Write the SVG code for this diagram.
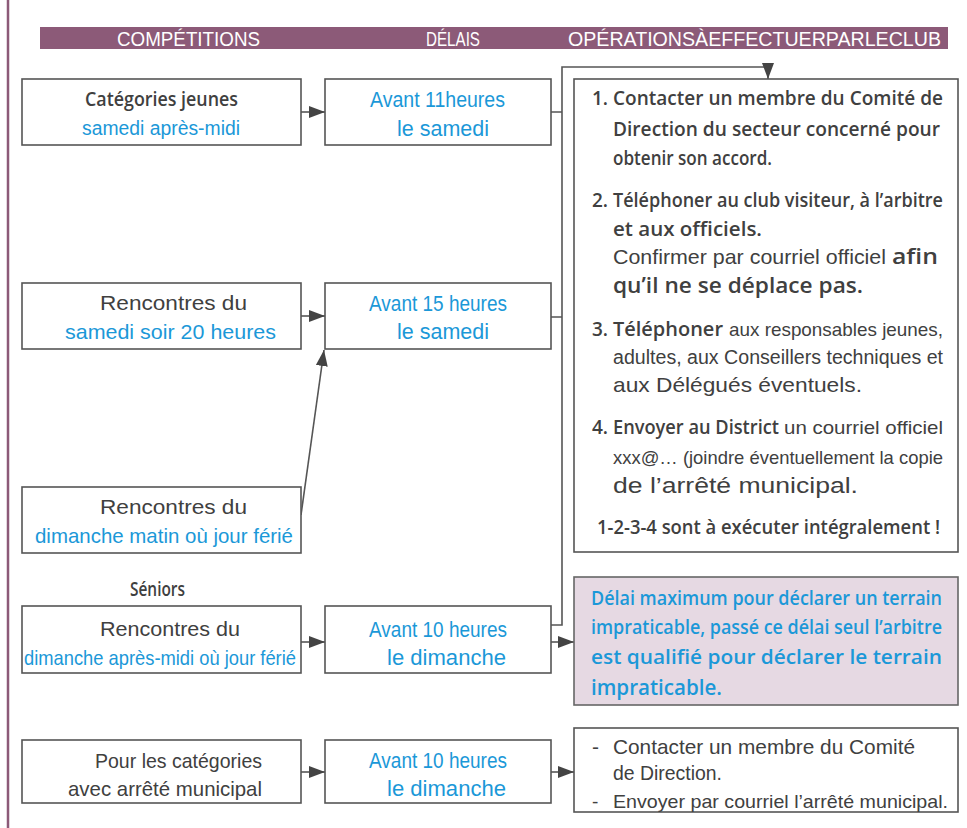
<svg xmlns="http://www.w3.org/2000/svg" width="967" height="828" viewBox="0 0 967 828">
<style>
.box{fill:#fff;stroke:#555;stroke-width:1.6}
.pbox{fill:#e6d9e3;stroke:#666;stroke-width:1.6}
.con{fill:none;stroke:#555;stroke-width:1.6}
.g{font-family:"Liberation Sans",Arial,sans-serif;fill:#404040}
.b{font-family:"Liberation Sans",Arial,sans-serif;fill:#1b98d8}
.h{font-family:"Open Sans","Noto Sans",sans-serif;font-weight:600;fill:#404040}
.hb{font-family:"Open Sans","Noto Sans",sans-serif;font-weight:600;fill:#1b98d8}
.w{font-family:"Liberation Sans",Arial,sans-serif;fill:#fff;font-size:20px}
</style>
<defs>
<marker id="ah" markerUnits="userSpaceOnUse" markerWidth="16" markerHeight="12" refX="16" refY="6" orient="auto">
<path d="M0,0 L16,6 L0,12 z" fill="#444"/>
</marker>
</defs>
<rect x="0" y="0" width="967" height="828" fill="#fff"/>
<line x1="8" y1="0" x2="8" y2="828" stroke="#8c5a78" stroke-width="2.5"/>
<g id="header">
<rect x="40" y="27" width="908" height="22" fill="#8c5a78"/>
<text class="w" x="117" y="46" textLength="143" lengthAdjust="spacingAndGlyphs">COMPÉTITIONS</text>
<text class="w" x="426" y="46" textLength="54" lengthAdjust="spacingAndGlyphs">DÉLAIS</text>
<text class="w" x="568" y="46" textLength="373" lengthAdjust="spacingAndGlyphs">OPÉRATIONSÀEFFECTUERPARLECLUB</text>
</g>
<g id="connectors">
<line class="con" x1="301" y1="112" x2="325" y2="112" marker-end="url(#ah)"/>
<line class="con" x1="301" y1="316" x2="325" y2="316" marker-end="url(#ah)"/>
<line class="con" x1="301" y1="515" x2="324" y2="350" marker-end="url(#ah)"/>
<line class="con" x1="301" y1="642" x2="325" y2="642" marker-end="url(#ah)"/>
<line class="con" x1="551" y1="642" x2="574" y2="642" marker-end="url(#ah)"/>
<line class="con" x1="301" y1="772" x2="325" y2="772" marker-end="url(#ah)"/>
<line class="con" x1="551" y1="772" x2="574" y2="772" marker-end="url(#ah)"/>
<path class="con" d="M551,112 H562 M551,317 H562"/>
<path class="con" d="M551,625 H562 V67 H768 V79" marker-end="url(#ah)"/>
</g>
<g id="jeunes">
<rect class="box" x="22" y="79" width="279" height="66"/>
<text class="h" x="85" y="106" font-size="20" textLength="153" lengthAdjust="spacingAndGlyphs">Catégories  jeunes</text>
<text class="b" x="82" y="135" font-size="20" textLength="158" lengthAdjust="spacingAndGlyphs">samedi après-midi</text>
</g>
<g id="avant11">
<rect class="box" x="325" y="79" width="226" height="66"/>
<text class="b" x="370" y="107" font-size="22" textLength="135" lengthAdjust="spacingAndGlyphs">Avant 11heures</text>
<text class="b" x="397" y="136" font-size="22" textLength="92" lengthAdjust="spacingAndGlyphs">le samedi</text>
</g>
<g id="samedisoir">
<rect class="box" x="22" y="283" width="279" height="66"/>
<text class="g" x="100" y="310" font-size="21" textLength="147" lengthAdjust="spacingAndGlyphs">Rencontres du</text>
<text class="b" x="65" y="339" font-size="21" textLength="211" lengthAdjust="spacingAndGlyphs">samedi soir 20 heures</text>
</g>
<g id="avant15">
<rect class="box" x="325" y="283" width="226" height="66"/>
<text class="b" x="369" y="311" font-size="22" textLength="138" lengthAdjust="spacingAndGlyphs">Avant 15 heures</text>
<text class="b" x="397" y="339" font-size="22" textLength="92" lengthAdjust="spacingAndGlyphs">le samedi</text>
</g>
<g id="dimanchematin">
<rect class="box" x="22" y="487" width="279" height="66"/>
<text class="g" x="100" y="514" font-size="21" textLength="147" lengthAdjust="spacingAndGlyphs">Rencontres du</text>
<text class="b" x="35" y="543" font-size="21" textLength="258" lengthAdjust="spacingAndGlyphs">dimanche matin où jour férié</text>
</g>
<g id="seniors">
<text class="h" x="130" y="596" font-size="20" textLength="55" lengthAdjust="spacingAndGlyphs">Séniors</text>
<rect class="box" x="22" y="606" width="279" height="67"/>
<text class="g" x="100" y="636" font-size="21" textLength="140" lengthAdjust="spacingAndGlyphs">Rencontres du</text>
<text class="b" x="24" y="665" font-size="21" textLength="272" lengthAdjust="spacingAndGlyphs">dimanche après-midi où jour férié</text>
</g>
<g id="avant10a">
<rect class="box" x="325" y="606" width="226" height="67"/>
<text class="b" x="369" y="637" font-size="22" textLength="138" lengthAdjust="spacingAndGlyphs">Avant 10 heures</text>
<text class="b" x="387" y="665" font-size="22" textLength="119" lengthAdjust="spacingAndGlyphs">le dimanche</text>
</g>
<g id="operations">
<rect class="box" x="574" y="79" width="384" height="473"/>
<text class="h" font-size="19" y="105"><tspan x="592">1.</tspan><tspan x="613" textLength="330" lengthAdjust="spacingAndGlyphs">Contacter un membre du Comité de</tspan></text>
<text class="h" font-size="19" x="613" y="136" textLength="327" lengthAdjust="spacingAndGlyphs">Direction du secteur concerné pour</text>
<text class="h" font-size="20" x="613" y="165" textLength="159" lengthAdjust="spacingAndGlyphs">obtenir son accord.</text>
<text class="h" font-size="19" y="207"><tspan x="592">2.</tspan><tspan x="613" textLength="330" lengthAdjust="spacingAndGlyphs">Téléphoner au club visiteur, à l’arbitre</tspan></text>
<text class="h" font-size="20" x="613" y="236" textLength="149" lengthAdjust="spacingAndGlyphs">et aux officiels.</text>
<text font-size="21" y="264"><tspan class="g" x="613" textLength="273" lengthAdjust="spacingAndGlyphs">Confirmer par courriel officiel</tspan><tspan class="h" x="892" textLength="46" lengthAdjust="spacingAndGlyphs">afin</tspan></text>
<text class="h" font-size="21" x="613" y="293" textLength="250" lengthAdjust="spacingAndGlyphs">qu’il ne se déplace pas.</text>
<text font-size="19" y="336"><tspan class="h" x="592">3.</tspan><tspan class="h" x="613" textLength="110" lengthAdjust="spacingAndGlyphs">Téléphoner</tspan><tspan class="g" x="729" textLength="214" lengthAdjust="spacingAndGlyphs">aux responsables jeunes,</tspan></text>
<text class="g" font-size="20" x="613" y="364" textLength="330" lengthAdjust="spacingAndGlyphs">adultes, aux Conseillers techniques et</text>
<text class="g" font-size="21" x="613" y="392" textLength="249" lengthAdjust="spacingAndGlyphs">aux  Délégués éventuels.</text>
<text font-size="19" y="434"><tspan class="h" x="592">4.</tspan><tspan class="h" x="613" textLength="166" lengthAdjust="spacingAndGlyphs">Envoyer au District</tspan><tspan class="g" x="784" textLength="159" lengthAdjust="spacingAndGlyphs">un courriel officiel</tspan></text>
<text class="g" font-size="19" x="613" y="464" textLength="330" lengthAdjust="spacingAndGlyphs">xxx@… (joindre éventuellement la copie</text>
<text class="g" font-size="22" x="613" y="493" textLength="245" lengthAdjust="spacingAndGlyphs">de l’arrêté municipal.</text>
<text class="h" font-size="19" x="597" y="534" textLength="343" lengthAdjust="spacingAndGlyphs">1-2-3-4 sont à exécuter intégralement !</text>
</g>
<g id="delaimax">
<rect class="pbox" x="574" y="577" width="384" height="128"/>
<text class="hb" font-size="19" x="591" y="605" textLength="351" lengthAdjust="spacingAndGlyphs">Délai maximum pour déclarer un terrain</text>
<text class="hb" font-size="19" x="591" y="634" textLength="351" lengthAdjust="spacingAndGlyphs">impraticable, passé ce délai seul l’arbitre</text>
<text class="hb" font-size="20" x="591" y="664" textLength="351" lengthAdjust="spacingAndGlyphs">est qualifié pour déclarer le terrain</text>
<text class="hb" font-size="21" x="591" y="695" textLength="131" lengthAdjust="spacingAndGlyphs">impraticable.</text>
</g>
<g id="arrete">
<rect class="box" x="22" y="740" width="279" height="63"/>
<text class="g" x="95" y="768" font-size="21" textLength="167" lengthAdjust="spacingAndGlyphs">Pour les catégories</text>
<text class="g" x="68" y="796" font-size="21" textLength="194" lengthAdjust="spacingAndGlyphs">avec arrêté municipal</text>
</g>
<g id="avant10b">
<rect class="box" x="325" y="740" width="226" height="63"/>
<text class="b" x="369" y="768" font-size="22" textLength="138" lengthAdjust="spacingAndGlyphs">Avant 10 heures</text>
<text class="b" x="387" y="796" font-size="22" textLength="119" lengthAdjust="spacingAndGlyphs">le dimanche</text>
</g>
<g id="municipal">
<rect class="box" x="574" y="728" width="384" height="84"/>
<text class="g" font-size="21" y="754"><tspan x="592">-</tspan><tspan x="613" textLength="302" lengthAdjust="spacingAndGlyphs">Contacter un membre du Comité</tspan></text>
<text class="g" font-size="21" x="613" y="780" textLength="109" lengthAdjust="spacingAndGlyphs">de Direction.</text>
<text class="g" font-size="19" y="808"><tspan x="592">-</tspan><tspan x="613" textLength="335" lengthAdjust="spacingAndGlyphs">Envoyer par courriel l’arrêté municipal.</tspan></text>
</g>
</svg>
